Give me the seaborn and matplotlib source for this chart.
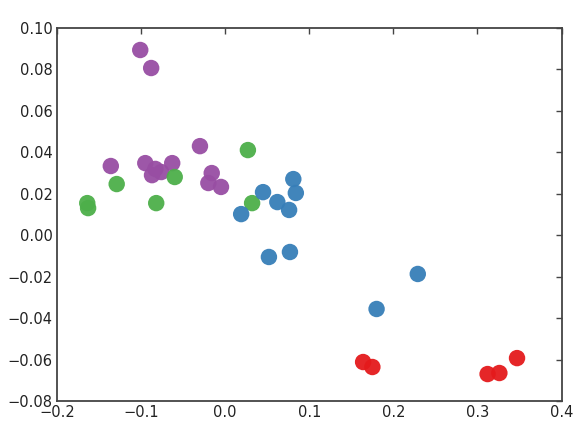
# Cluster scatter - 2D projection of samples coloured by group

import matplotlib
matplotlib.use("Agg")
import matplotlib.pyplot as plt
import seaborn as sns
import pandas as pd

purple_x = [-0.101, -0.088, -0.136, -0.095, -0.087, -0.083, -0.076, -0.063,
            -0.030, -0.016, -0.020, -0.005]
purple_y = [0.0894, 0.0807, 0.0334, 0.0348, 0.0290, 0.0320, 0.0305, 0.0348,
            0.0430, 0.0300, 0.0252, 0.0233]

green_x = [-0.164, -0.163, -0.129, -0.082, -0.060, 0.027, 0.032]
green_y = [0.0155, 0.0131, 0.0247, 0.0155, 0.0281, 0.0411, 0.0155]

blue_x = [0.019, 0.045, 0.062, 0.076, 0.081, 0.084, 0.052, 0.077, 0.180, 0.229]
blue_y = [0.0102, 0.0208, 0.0160, 0.0122, 0.0271, 0.0204, -0.0105, -0.0081,
          -0.0356, -0.0187]

red_x = [0.164, 0.175, 0.312, 0.326, 0.347]
red_y = [-0.0612, -0.0636, -0.0670, -0.0665, -0.0593]

groups = {
    "purple": (purple_x, purple_y),
    "green": (green_x, green_y),
    "blue": (blue_x, blue_y),
    "red": (red_x, red_y),
}
palette = {"purple": "#984ea3", "green": "#4daf4a",
           "blue": "#377eb8", "red": "#e41a1c"}

rows = []
for name, (xs, ys) in groups.items():
    for x, y in zip(xs, ys):
        rows.append({"x": x, "y": y, "group": name})
df = pd.DataFrame(rows)

sns.set_style("white")
plt.rcParams["font.family"] = ["DejaVu Sans"]

fig = plt.figure(figsize=(5.85, 4.38), dpi=100)
ax = fig.add_axes([0.0974, 0.0845, 0.8626, 0.8515])

sns.scatterplot(data=df, x="x", y="y", hue="group", palette=palette,
                s=140, edgecolor="none", alpha=0.95, legend=False, ax=ax)

ax.set_xlim(-0.2, 0.4)
ax.set_ylim(-0.08, 0.10)
ax.set_xticks([-0.2, -0.1, 0.0, 0.1, 0.2, 0.3, 0.4])
ax.set_yticks([-0.08, -0.06, -0.04, -0.02, 0.0, 0.02, 0.04, 0.06, 0.08, 0.10])
ax.set_yticklabels(["\u22120.08", "\u22120.06", "\u22120.04", "\u22120.02",
                    "0.00", "0.02", "0.04", "0.06", "0.08", "0.10"])
ax.set_xlabel("")
ax.set_ylabel("")

for sp in ax.spines.values():
    sp.set_color("#444444")
    sp.set_linewidth(1.3)
ax.tick_params(direction="in", top=True, right=True, length=4, width=1,
               color="#444444", labelsize=10.5, labelcolor="#222222", pad=3)

fig.savefig("out.png", dpi=100)
plt.close(fig)
